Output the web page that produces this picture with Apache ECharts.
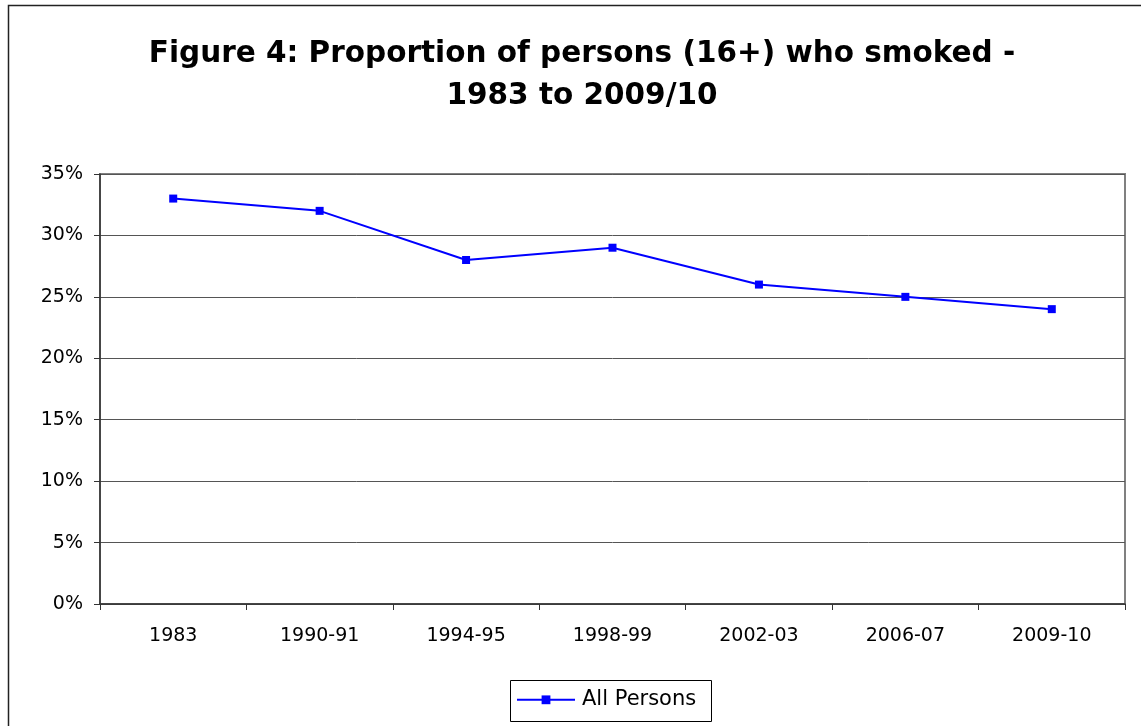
<!DOCTYPE html>
<html>
<head>
    <title>Figure 4</title>
    <script src="https://cdn.jsdelivr.net/npm/echarts@6/dist/echarts.min.js"></script>
    <style>
        body { margin: 0; background: #fff; }
        #chart_div { width: 1141px; height: 726px; }
    </style>
</head>
<body>
    <div id="chart_div"></div>
    <script>
        // data
        const categories = ['1983', '1990-91', '1994-95', '1998-99', '2002-03', '2006-07', '2009-10'];
        const allPersons = [33, 32, 28, 29, 26, 25, 24];
        const seriesName = 'All Persons';

        const myChart = echarts.init(document.getElementById('chart_div'));

        const option = {
            animation: false,
            textStyle: { fontFamily: '"DejaVu Sans", sans-serif' },
            graphic: [{
                type: 'rect',
                shape: { x: 8.5, y: 5.5, width: 1150, height: 740 },
                style: { fill: 'none', stroke: '#222', lineWidth: 1.5 },
                silent: true
            }, {
                // legend frame
                type: 'rect',
                shape: { x: 510.5, y: 680.5, width: 201, height: 41 },
                style: { fill: 'none', stroke: '#000', lineWidth: 1 },
                silent: true
            }],
            title: {
                text: 'Figure 4: Proportion of persons (16+) who smoked -\n1983 to 2009/10',
                left: 577,
                textAlign: 'center',
                top: 28,
                textStyle: {
                    fontSize: 29.5,
                    fontWeight: 'bold',
                    color: '#000',
                    lineHeight: 42
                }
            },
            legend: {
                data: [seriesName],
                left: 516,
                top: 679,
                padding: 0,
                itemWidth: 58,
                itemHeight: 11,
                itemGap: 0,
                textStyle: { fontSize: 21, color: '#000', padding: [0, 0, 0, 2] }
            },
            grid: {
                left: 100,
                right: 16,
                top: 174,
                bottom: 122,
                show: true,
                borderColor: '#808080',
                borderWidth: 2
            },
            xAxis: {
                type: 'category',
                data: categories,
                boundaryGap: true,
                axisLine: { lineStyle: { color: '#333', width: 1.5 } },
                axisTick: { show: true, length: 6, lineStyle: { color: '#333' } },
                axisLabel: { fontSize: 19, color: '#000', margin: 13 }
            },
            yAxis: {
                type: 'value',
                min: 0,
                max: 35,
                interval: 5,
                axisLine: { show: true, lineStyle: { color: '#333', width: 1.5 } },
                axisTick: { show: true, length: 6, lineStyle: { color: '#333' } },
                axisLabel: { fontSize: 19, color: '#000', margin: 17, formatter: '{value}%' },
                splitLine: { lineStyle: { color: '#555', width: 1 } }
            },
            series: [{
                name: seriesName,
                type: 'line',
                data: allPersons,
                symbol: 'rect',
                symbolSize: 8,
                itemStyle: { color: '#0000ff' },
                lineStyle: { color: '#0000ff', width: 2 }
            }]
        };

        myChart.setOption(option);
    </script>
</body>
</html>
